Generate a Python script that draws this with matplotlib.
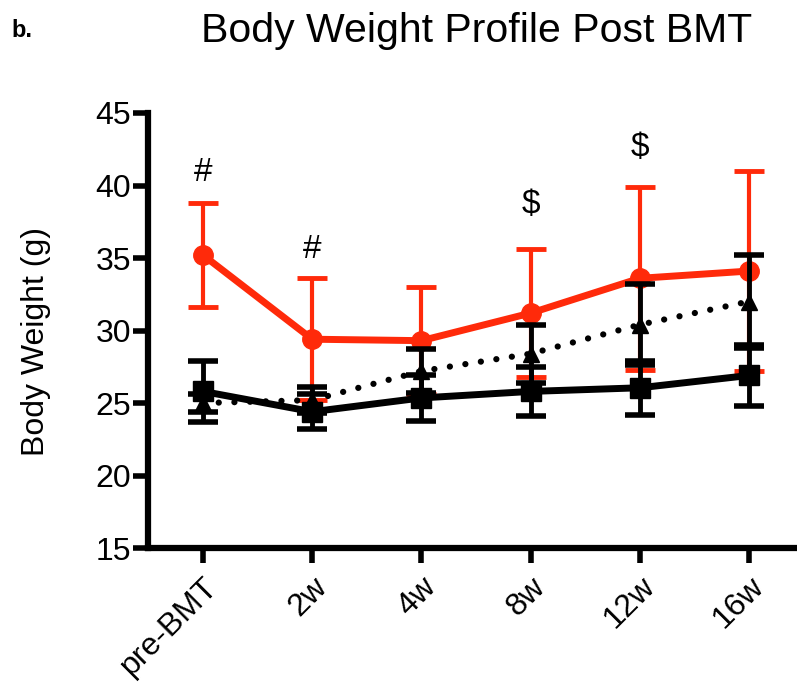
import matplotlib
matplotlib.use("Agg")
import matplotlib.pyplot as plt
import numpy as np

plt.rcParams['font.family'] = ['Liberation Sans', 'DejaVu Sans']

timepoints = ["pre-BMT", "2w", "4w", "8w", "12w", "16w"]

# red group (circles)
red_mean = [35.2, 29.4, 29.3, 31.2, 33.6, 34.1]
red_sd = [3.6, 4.2, 3.7, 4.4, 6.3, 6.9]

# dotted group (triangles)
tri_mean = [25.0, 25.2, 27.2, 28.4, 30.4, 32.0]
tri_sd = [0.6, 0.9, 1.5, 2.0, 2.8, 3.2]

# solid black group (squares)
sq_mean = [25.8, 24.4, 25.35, 25.8, 26.05, 26.9]
sq_sd = [2.1, 1.2, 1.6, 1.7, 1.85, 2.1]

# significance marks: (timepoint index, symbol, height in g)
marks = [(0, "#", 40.9), (1, "#", 35.6), (3, "$", 38.7), (4, "$", 42.6)]

x = np.arange(len(timepoints))
red = "#FF2A0A"

fig = plt.figure(figsize=(7.97, 6.84), dpi=100)
ax = fig.add_axes([0.1857, 0.1988, 1.0 - 0.1857, 0.8348 - 0.1988])

ax.errorbar(x, red_mean, yerr=red_sd, color=red, lw=5, marker="o", ms=14,
            elinewidth=3, capsize=11, capthick=3.5, zorder=3)
ax.errorbar(x, tri_mean, yerr=tri_sd, color="black", lw=4.5, ls=(0, (0.01, 2.5)),
            dash_capstyle="round", marker="^", ms=12, elinewidth=3.5,
            capsize=11, capthick=4, zorder=4)
ax.errorbar(x, sq_mean, yerr=sq_sd, color="black", lw=5, marker="s", ms=14.5,
            elinewidth=3.5, capsize=11, capthick=4, zorder=5)

for i, sym, h in marks:
    ax.text(x[i], h, sym, ha="center", va="center", fontsize=24)

ax.set_xlim(-0.504, 5.44)
ax.set_ylim(15, 45)
ax.set_yticks([15, 20, 25, 30, 35, 40, 45])
ax.set_xticks(x)
ax.set_xticklabels(timepoints, rotation=45, ha="right", rotation_mode="anchor")

for side in ["top", "right"]:
    ax.spines[side].set_visible(False)
for side in ["left", "bottom"]:
    ax.spines[side].set_linewidth(4.5)
    ax.spines[side].set_capstyle("projecting")

ax.tick_params(axis="both", width=4, length=11, labelsize=23, pad=6)
ax.tick_params(axis="y", pad=1)
ax.set_ylabel("Body Weight (g)", fontsize=23)
ax.yaxis.set_label_coords(-0.15, 0.474)

fig.text(0.598, 0.955, "Body Weight Profile Post BMT", ha="center", va="center",
         fontsize=29.5)
fig.text(0.014, 0.955, "b.", ha="left", va="center", fontsize=17,
         fontweight="bold")

fig.savefig("out.png", dpi=100)
